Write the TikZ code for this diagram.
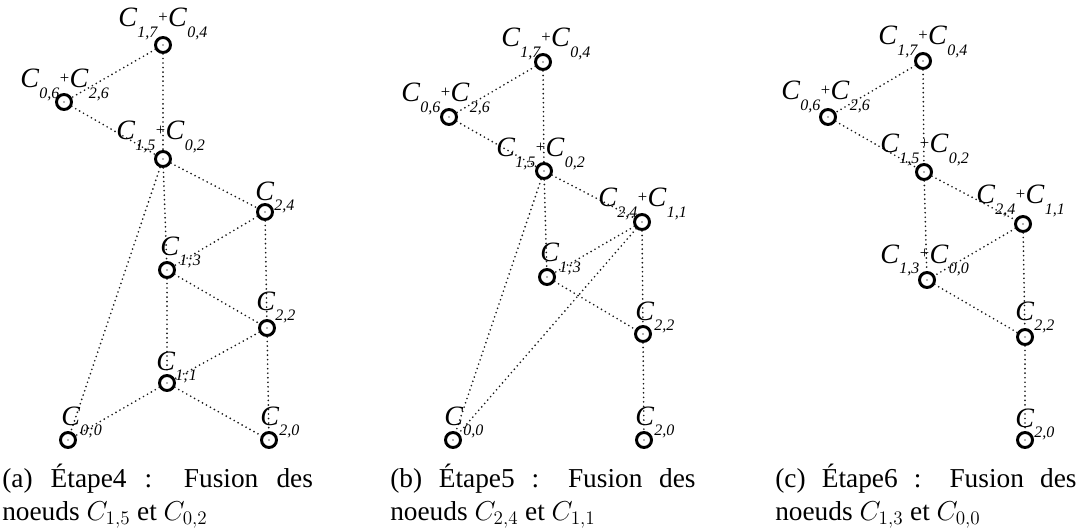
\RequirePackage{fix-cm}
\documentclass[tikz,border=0pt]{standalone}
\usepackage{fontspec}
\setmainfont{Liberation Serif}
\newcommand{\Cs}[1]{\textit{C}\kern0.2pt\raisebox{-8pt}{\fontsize{12}{13}\selectfont\textit{#1}}}
\newcommand{\plusmark}{\kern0.3pt\raisebox{3.5pt}{\fontsize{12.5}{13}\selectfont +}\kern0.3pt}
\newcommand{\capbox}[2]{\parbox[t]{#1}{\fontsize{20.5}{24.75}\selectfont #2}}
\tikzset{
  vtx/.style={circle, draw=black, line width=2.2pt, minimum size=11.25pt, inner sep=0pt,
    path picture={\fill[black!60] (path picture bounding box.center) circle (0.6pt);}},
  lbl/.style={anchor=base west, inner sep=0pt, font=\fontsize{21}{24}\selectfont},
  edgeline/.style={draw=black!90, line width=1.4pt, dash pattern=on 0pt off 3.4pt, line cap=round},
  captext/.style={anchor=base west, inner sep=0pt}
}
\begin{document}
\begin{tikzpicture}[x=0.75pt, y=-0.75pt]
\useasboundingbox (0,0) rectangle (1078,531);
% ---------- panel (a) ----------
\node[vtx] (a17) at (163,45) {};
\node[vtx] (a06) at (64,102) {};
\node[vtx] (a15) at (163,159) {};
\node[vtx] (a24) at (265,212) {};
\node[vtx] (a13) at (167,270) {};
\node[vtx] (a22) at (267,328) {};
\node[vtx] (a11) at (167,383) {};
\node[vtx] (a00) at (68,440) {};
\node[vtx] (a20) at (269,440) {};
\draw[edgeline] (a17) -- (a06);
\draw[edgeline] (a17) -- (a15);
\draw[edgeline] (a06) -- (a15);
\draw[edgeline] (a15) -- (a24);
\draw[edgeline] (a15) -- (a13);
\draw[edgeline] (a15) -- (a00);
\draw[edgeline] (a24) -- (a13);
\draw[edgeline] (a24) -- (a22);
\draw[edgeline] (a13) -- (a22);
\draw[edgeline] (a13) -- (a11);
\draw[edgeline] (a22) -- (a11);
\draw[edgeline] (a22) -- (a20);
\draw[edgeline] (a11) -- (a00);
\draw[edgeline] (a11) -- (a20);
\node[lbl] (la17) at (118,27) {\Cs{1,7}\plusmark\Cs{0,4}};
\node[lbl] (la06) at (20,88) {\Cs{0,6}\plusmark\Cs{2,6}};
\node[lbl] (la15) at (116,140) {\Cs{1,5}\plusmark\Cs{0,2}};
\node[lbl] (la24) at (255,200) {\Cs{2,4}};
\node[lbl] (la13) at (160,255) {\Cs{1;3}};
\node[lbl] (la22) at (256,310) {\Cs{2,2}};
\node[lbl] (la11) at (156,370) {\Cs{1;1}};
\node[lbl] (la00) at (61,425) {\Cs{0;0}};
\node[lbl] (la20) at (260,425) {\Cs{2,0}};
% ---------- panel (b) ----------
\node[vtx] (b17) at (543,62) {};
\node[vtx] (b06) at (449,117) {};
\node[vtx] (b15) at (544,171) {};
\node[vtx] (b24) at (642,222) {};
\node[vtx] (b13) at (547,277) {};
\node[vtx] (b22) at (643,334) {};
\node[vtx] (b00) at (453,440) {};
\node[vtx] (b20) at (644,440) {};
\draw[edgeline] (b17) -- (b06);
\draw[edgeline] (b17) -- (b15);
\draw[edgeline] (b06) -- (b15);
\draw[edgeline] (b15) -- (b24);
\draw[edgeline] (b15) -- (b13);
\draw[edgeline] (b15) -- (b00);
\draw[edgeline] (b24) -- (b13);
\draw[edgeline] (b24) -- (b00);
\draw[edgeline] (b24) -- (b22);
\draw[edgeline] (b13) -- (b22);
\draw[edgeline] (b22) -- (b20);
\node[lbl] (lb17) at (501,47) {\Cs{1,7}\plusmark\Cs{0,4}};
\node[lbl] (lb06) at (401,102) {\Cs{0,6}\plusmark\Cs{2,6}};
\node[lbl] (lb15) at (496,157) {\Cs{1,5}\plusmark\Cs{0,2}};
\node[lbl] (lb24) at (598,207) {\Cs{2,4}\plusmark\Cs{1,1}};
\node[lbl] (lb13) at (540,262) {\Cs{1;3}};
\node[lbl] (lb22) at (635,320) {\Cs{2,2}};
\node[lbl] (lb00) at (444,425) {\Cs{0,0}};
\node[lbl] (lb20) at (635,425) {\Cs{2,0}};
% ---------- panel (c) ----------
\node[vtx] (c17) at (923,61) {};
\node[vtx] (c06) at (828,117) {};
\node[vtx] (c15) at (924,172) {};
\node[vtx] (c24) at (1023,224) {};
\node[vtx] (c13) at (927,280) {};
\node[vtx] (c22) at (1025,337) {};
\node[vtx] (c20) at (1025,440) {};
\draw[edgeline] (c17) -- (c06);
\draw[edgeline] (c17) -- (c15);
\draw[edgeline] (c06) -- (c15);
\draw[edgeline] (c15) -- (c24);
\draw[edgeline] (c15) -- (c13);
\draw[edgeline] (c24) -- (c13);
\draw[edgeline] (c24) -- (c22);
\draw[edgeline] (c13) -- (c22);
\draw[edgeline] (c22) -- (c20);
\node[lbl] (lc17) at (878,45) {\Cs{1,7}\plusmark\Cs{0,4}};
\node[lbl] (lc06) at (781,100) {\Cs{0,6}\plusmark\Cs{2,6}};
\node[lbl] (lc15) at (880,153) {\Cs{1,5}\plusmark\Cs{0,2}};
\node[lbl] (lc24) at (976,204) {\Cs{2,4}\plusmark\Cs{1,1}};
\node[lbl] (lc13) at (880,263) {\Cs{1,3}\plusmark\Cs{0,0}};
\node[lbl] (lc22) at (1015,320) {\Cs{2,2}};
\node[lbl] (lc20) at (1015,427) {\Cs{2,0}};
% ---------- captions ----------
\node[captext] (capa) at (2,487) {\capbox{233pt}{(a) Étape4 : Fusion des\linebreak noeuds $C_{1,5}$ et $C_{0,2}$}};
\node[captext] (capb) at (390,487) {\capbox{229pt}{(b) Étape5 : Fusion des\linebreak noeuds $C_{2,4}$ et $C_{1,1}$}};
\node[captext] (capc) at (775,487) {\capbox{226pt}{(c) Étape6 : Fusion des\linebreak noeuds $C_{1,3}$ et $C_{0,0}$}};
\end{tikzpicture}
\end{document}
